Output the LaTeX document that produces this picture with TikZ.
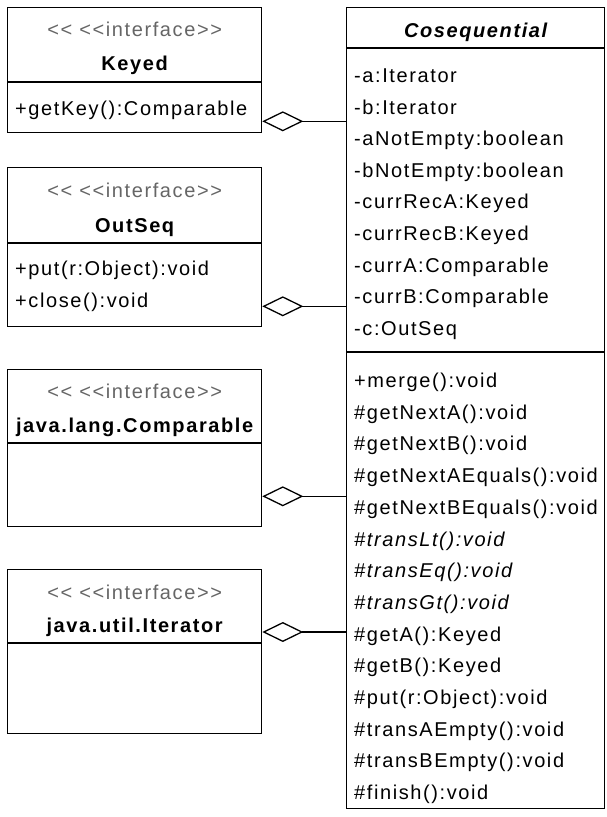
\documentclass[tikz,border=0pt]{standalone}
\usepackage{fontspec}
\setmainfont{Liberation Sans}[LetterSpace=8,Ligatures=TeXOff]
\usetikzlibrary{arrows.meta,calc}
\tikzset{
  classbox/.style={draw=black,line width=1.3pt,anchor=north west,inner sep=0pt,minimum width=254pt},
  member/.style={anchor=west,inner sep=0pt,text height=14pt,text depth=0pt,font=\fontsize{20}{24}\selectfont},
  stereo/.style={member,anchor=center,text=black!60},
  classname/.style={member,anchor=center,font=\fontsize{20}{24}\selectfont\bfseries},
  divider/.style={line width=1.3pt},
  agg/.style={{Diamond[open,length=41pt,width=20pt]}-,line width=1.3pt},
}
\begin{document}
\begin{tikzpicture}[x=1pt,y=-1pt]
\useasboundingbox[fill=white] (0,0) rectangle (606,817);
% interfaces on the left
\node[classbox,minimum height=125pt] (keyed) at (7,7) {};
\node[classbox,minimum height=159pt] (outseq) at (7,167) {};
\node[classbox,minimum height=157pt] (comparable) at (7,369) {};
\node[classbox,minimum height=164pt] (iterator) at (7,569) {};
% main class
\node[classbox,minimum width=258pt,minimum height=801pt] (cos) at (346,7) {};
% compartments
\draw[divider] ($(keyed.north west)+(0,75)$) -- ($(keyed.north east)+(0,75)$);
\draw[divider] ($(outseq.north west)+(0,76)$) -- ($(outseq.north east)+(0,76)$);
\draw[divider] ($(comparable.north west)+(0,74)$) -- ($(comparable.north east)+(0,74)$);
\draw[divider] ($(iterator.north west)+(0,74)$) -- ($(iterator.north east)+(0,74)$);
\draw[divider] ($(cos.north west)+(0,41)$) -- ($(cos.north east)+(0,41)$);
\draw[divider] ($(cos.north west)+(0,345)$) -- ($(cos.north east)+(0,345)$);
% headers
\node[stereo] (keyedst) at ($(keyed.north)+(0,22)$) {<< <<interface>>};
\node[classname] (keyedname) at ($(keyed.north)+(0,56)$) {Keyed};
\node[stereo] (outseqst) at ($(outseq.north)+(0,23)$) {<< <<interface>>};
\node[classname] (outseqname) at ($(outseq.north)+(0,58)$) {OutSeq};
\node[stereo] (comparablest) at ($(comparable.north)+(0,22)$) {<< <<interface>>};
\node[classname] (comparablename) at ($(comparable.north)+(0,56)$) {java.lang.Comparable};
\node[stereo] (iteratorst) at ($(iterator.north)+(0,23)$) {<< <<interface>>};
\node[classname] (iteratorname) at ($(iterator.north)+(0,56)$) {java.util.Iterator};
\node[classname,font=\fontsize{20}{24}\selectfont\bfseries\itshape] (cosname) at ($(cos.north)+(0,23)$) {Cosequential};
% interface operations
\node[member] (k1) at (15,108) {+getKey():Comparable};
\node[member] (o1) at (15,268) {+put(r:Object):void};
\node[member] (o2) at (15,300) {+close():void};
% attributes
\node[member] (a1) at (354,75) {-a:Iterator};
\node[member] (a2) at (354,107) {-b:Iterator};
\node[member] (a3) at (354,138) {-aNotEmpty:boolean};
\node[member] (a4) at (354,170) {-bNotEmpty:boolean};
\node[member] (a5) at (354,201) {-currRecA:Keyed};
\node[member] (a6) at (354,233) {-currRecB:Keyed};
\node[member] (a7) at (354,265) {-currA:Comparable};
\node[member] (a8) at (354,296) {-currB:Comparable};
\node[member] (a9) at (354,328) {-c:OutSeq};
% operations
\node[member] (m1) at (354,380) {+merge():void};
\node[member] (m2) at (354,412) {\#getNextA():void};
\node[member] (m3) at (354,443) {\#getNextB():void};
\node[member] (m4) at (354,475) {\#getNextAEquals():void};
\node[member] (m5) at (354,507) {\#getNextBEquals():void};
\node[member,font=\fontsize{20}{24}\selectfont\itshape] (m6) at (354,539) {\#transLt():void};
\node[member,font=\fontsize{20}{24}\selectfont\itshape] (m7) at (354,570) {\#transEq():void};
\node[member,font=\fontsize{20}{24}\selectfont\itshape] (m8) at (354,602) {\#transGt():void};
\node[member] (m9) at (354,634) {\#getA():Keyed};
\node[member] (m10) at (354,665) {\#getB():Keyed};
\node[member] (m11) at (354,697) {\#put(r:Object):void};
\node[member] (m12) at (354,729) {\#transAEmpty():void};
\node[member] (m13) at (354,760) {\#transBEmpty():void};
\node[member] (m14) at (354,792) {\#finish():void};
% aggregations
\draw[agg] ($(keyed.south east)+(0,-12)$) coordinate (kj) -- (kj -| cos.west);
\draw[agg] ($(outseq.south east)+(0,-21)$) coordinate (oj) -- (oj -| cos.west);
\draw[agg] ($(comparable.south east)+(0,-31)$) coordinate (cj) -- (cj -| cos.west);
\draw[agg] ($(iterator.north east)+(0,63)$) coordinate (ij) -- (ij -| cos.west);
\end{tikzpicture}
\end{document}
